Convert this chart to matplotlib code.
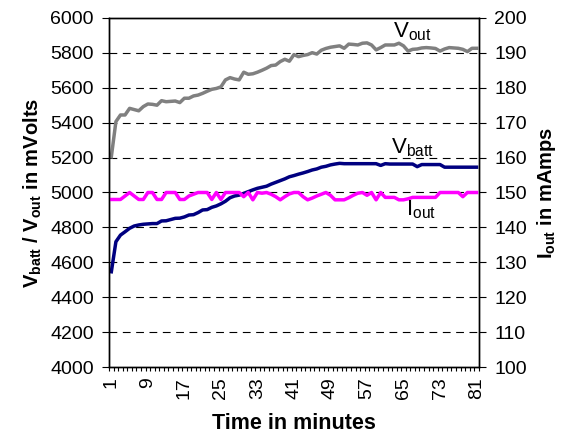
import matplotlib
matplotlib.use("Agg")
import matplotlib.pyplot as plt
import numpy as np
from matplotlib.ticker import FixedLocator, MultipleLocator

plt.rcParams['font.family'] = ['Liberation Sans', 'DejaVu Sans']
plt.rcParams['mathtext.fontset'] = 'custom'
plt.rcParams['mathtext.rm'] = 'Liberation Sans'
plt.rcParams['mathtext.bf'] = 'Liberation Sans:bold'
plt.rcParams['mathtext.it'] = 'Liberation Sans:italic'

minutes = np.arange(1, 82)

v_out = [5205, 5406, 5444, 5444, 5482, 5475, 5468, 5492, 5507, 5505,
         5500, 5526, 5520, 5522, 5524, 5515, 5540, 5540, 5553, 5558,
         5568, 5580, 5591, 5596, 5605, 5645, 5658, 5650, 5645, 5689,
         5677, 5680, 5689, 5700, 5712, 5727, 5730, 5750, 5763, 5752,
         5790, 5778, 5785, 5790, 5801, 5793, 5815, 5825, 5832, 5836,
         5840, 5826, 5850, 5848, 5845, 5855, 5857, 5845, 5817, 5830,
         5845, 5845, 5845, 5855, 5840, 5810, 5820, 5822, 5828, 5830,
         5828, 5825, 5810, 5822, 5830, 5828, 5826, 5820, 5807, 5826,
         5826]

v_batt = [4546, 4718, 4756, 4775, 4795, 4808, 4814, 4818, 4820, 4822,
          4822, 4837, 4838, 4845, 4852, 4853, 4860, 4871, 4873, 4885,
          4900, 4902, 4915, 4923, 4935, 4950, 4970, 4980, 4985, 4995,
          5005, 5015, 5024, 5030, 5036, 5048, 5058, 5068, 5078, 5090,
          5097, 5105, 5112, 5120, 5129, 5135, 5145, 5150, 5158, 5163,
          5167, 5165, 5165, 5165, 5165, 5165, 5165, 5165, 5165, 5155,
          5165, 5163, 5163, 5163, 5163, 5163, 5163, 5148, 5160, 5160,
          5160, 5160, 5160, 5145, 5145, 5145, 5145, 5145, 5145, 5145,
          5145]

i_out = [148, 148, 148, 149, 150, 149, 148, 148, 150, 150,
         148, 148, 150, 150, 150, 148, 148, 149, 149.5, 150,
         150, 150, 148, 150, 148, 150, 150, 150, 150, 148.8,
         150, 147.9, 150, 149.8, 150, 149.5, 148.8, 147.9, 148.8, 149.6,
         150, 150, 148.8, 147.9, 148.4, 149, 149.5, 150, 149.2, 147.9,
         147.9, 147.9, 148.5, 149.2, 149.8, 150, 149.2, 150, 147.9, 150,
         148.6, 148.6, 148.6, 147.9, 147.9, 148.2, 148.6, 148.6, 148.6, 148.6,
         148.6, 148.6, 150, 150, 150, 150, 150, 148.8, 150, 150,
         150]

x_labels = [1, 9, 17, 25, 33, 41, 49, 57, 65, 73, 81]

fig = plt.figure(figsize=(5.68, 4.37), dpi=100)
ax = fig.add_axes([0.192, 0.160, 0.651, 0.799])
ax2 = ax.twinx()

ax.plot(minutes, v_out, color='#808080', lw=2.5, solid_joinstyle='round')
ax.plot(minutes, v_batt, color='#000080', lw=2.5, solid_joinstyle='round')
ax2.plot(minutes, i_out, color='#FF00FF', lw=2.5, solid_joinstyle='round')

ax.set_xlim(0.5, 81.5)
ax.set_ylim(4000, 6000)
ax2.set_ylim(100, 200)
ax.yaxis.set_major_locator(MultipleLocator(200))
ax2.yaxis.set_major_locator(MultipleLocator(10))

ax.xaxis.set_major_locator(FixedLocator(x_labels))
ax.xaxis.set_minor_locator(FixedLocator(np.arange(0.5, 82, 1)))
ax.set_xticklabels([str(v) for v in x_labels], rotation=90)
ax.tick_params(axis='x', which='major', length=0, pad=7, labelsize=14)
ax.tick_params(axis='x', which='minor', length=3, width=0.8, direction='out')
ax.tick_params(axis='y', length=5, width=0.8, labelsize=14, pad=6)
ax2.tick_params(axis='y', length=5, width=0.8, labelsize=14, pad=6)

for y in range(4200, 6000, 200):
    ax.axhline(y, color='black', lw=0.8, ls=(0, (7, 5)), zorder=0)

for a in (ax, ax2):
    for s in a.spines.values():
        s.set_linewidth(1.0)

ax.set_xlabel('Time in minutes', fontsize=15.5, fontweight='bold', labelpad=10)
ax.set_ylabel(r'V$_{\mathbf{batt}}$ / V$_{\mathbf{out}}$ in mVolts',
              fontsize=14.5, fontweight='bold', labelpad=4)
ax2.set_ylabel(r'I$_{\mathbf{out}}$ in mAmps', fontsize=14.5,
               fontweight='bold', labelpad=6)

ax.text(67, 5920, r'V$_{\mathregular{out}}$', fontsize=16, ha='center', va='center')
ax.text(67, 5255, r'V$_{\mathregular{batt}}$', fontsize=16, ha='center', va='center')
ax2.text(68.8, 145, r'I$_{\mathregular{out}}$', fontsize=16, ha='center', va='center')

fig.savefig('out.png', dpi=100)
